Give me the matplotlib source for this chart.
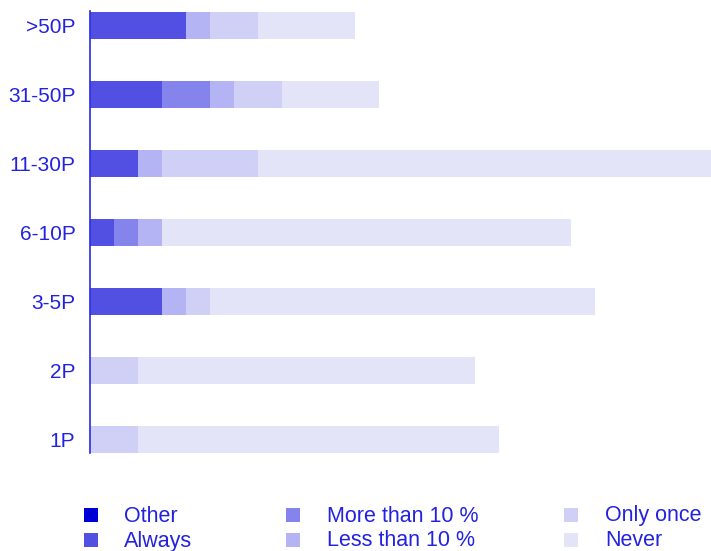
import matplotlib
matplotlib.use("Agg")
import matplotlib.pyplot as plt
from matplotlib.patches import Rectangle

categories = [">50P", "31-50P", "11-30P", "6-10P", "3-5P", "2P", "1P"]
series = ["Other", "Always", "More than 10 %", "Less than 10 %", "Only once", "Never"]
other = [0, 0, 0, 0, 0, 0, 0]
always = [4, 3, 2, 1, 3, 0, 0]
more10 = [0, 2, 0, 1, 0, 0, 0]
less10 = [1, 1, 1, 1, 1, 0, 0]
once = [2, 2, 4, 0, 1, 2, 2]
never = [4, 4, 19, 17, 16, 14, 15]
values = [other, always, more10, less10, once, never]
colors = ["#0000d6", "#5250e2", "#8484ec", "#b4b4f4", "#d0d0f6", "#e4e4f8"]
txt = "#2222e0"

fig = plt.figure(figsize=(7.11, 5.51), dpi=100)
ax = fig.add_axes([90/711, 98/551, 621/711, 442/551])
plt.rcParams['font.family'] = ['Liberation Sans', 'DejaVu Sans']

y = list(range(len(categories)))
left = [0]*len(categories)
for vals, col, name in zip(values, colors, series):
    ax.barh(y, vals, left=left, height=0.4, color=col, label=name, linewidth=0)
    left = [l + v for l, v in zip(left, vals)]

ax.set_xlim(0, 621/24.06)
ax.set_ylim(6.196, -0.21)
ax.set_yticks(y)
ax.set_yticklabels(categories, fontsize=15, color=txt, family=['Liberation Sans'])
ax.tick_params(axis='y', length=0, pad=10.5)
ax.set_xticks([])
for s in ['top', 'right', 'bottom']:
    ax.spines[s].set_visible(False)
ax.spines['left'].set_color('#2a2ae6')
ax.spines['left'].set_linewidth(1.2)

# legend laid out manually in three columns
cols_x = [84, 286, 564]
text_x = [124, 327, 605]
rows_y = [515, 540]
for i, (name, col) in enumerate(zip(series, colors)):
    c, r = divmod(i, 2)
    x0 = cols_x[c] / 711
    yc = 1 - rows_y[r] / 551
    fig.patches.append(Rectangle((x0, yc - 7/551), 14/711, 14/551, transform=fig.transFigure,
                                 color=col, linewidth=0))
    fig.text(text_x[c] / 711, yc - 1/551, name, va='center', ha='left', fontsize=15.5, color=txt,
             family=['Liberation Sans'])

fig.savefig("out.png", dpi=100)
